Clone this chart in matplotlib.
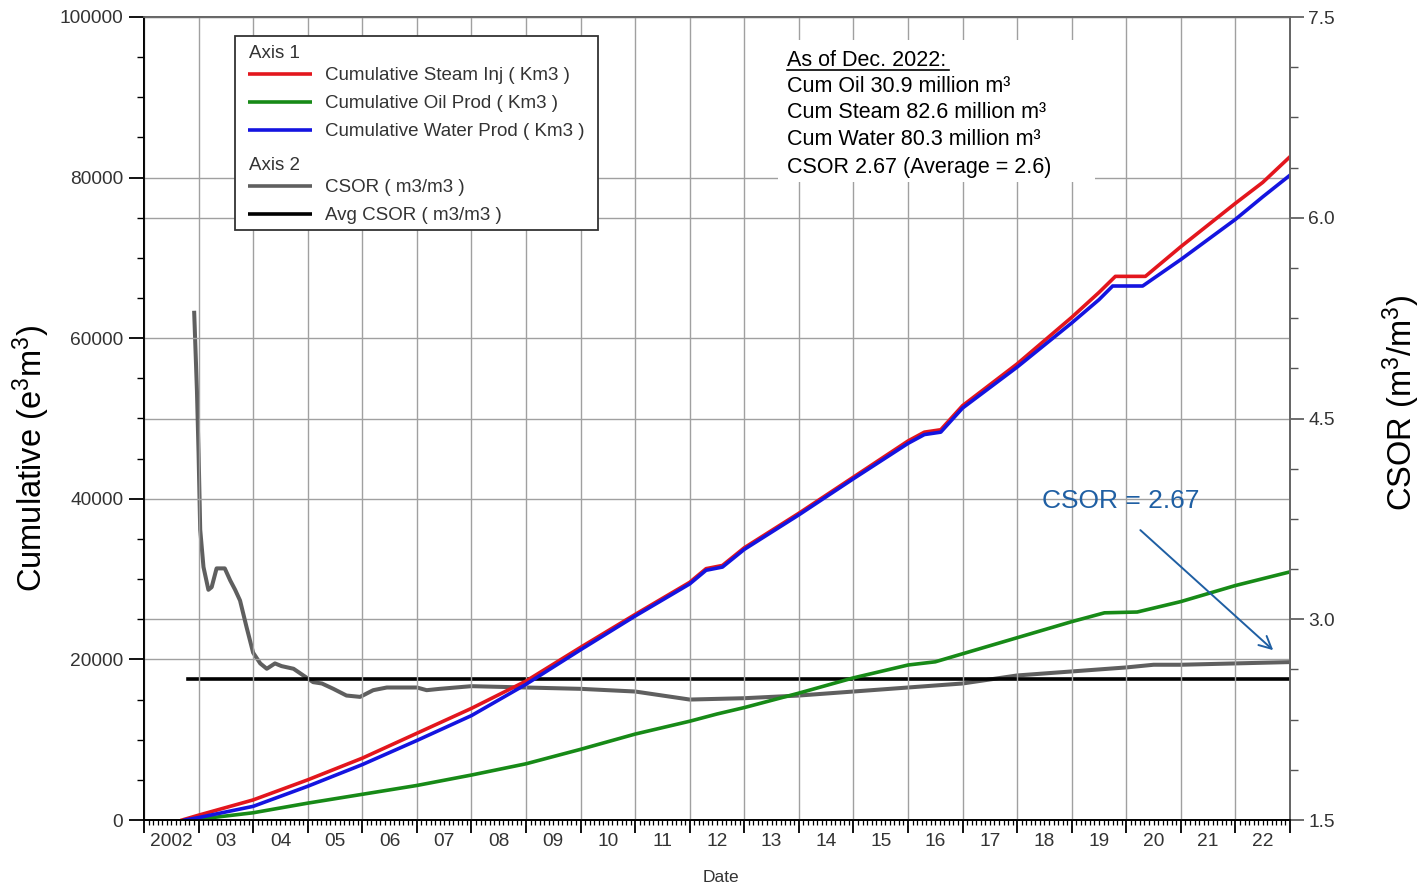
import matplotlib.pyplot as plt
from matplotlib.ticker import MultipleLocator, NullFormatter, FormatStrFormatter
from matplotlib.patches import Rectangle

plt.rcParams['font.family'] = ['Liberation Sans', 'DejaVu Sans']
plt.rcParams['mathtext.fontset'] = 'custom'
plt.rcParams['mathtext.rm'] = 'Liberation Sans'
plt.rcParams['mathtext.it'] = 'Liberation Sans:italic'
plt.rcParams['mathtext.bf'] = 'Liberation Sans:bold'

# ---- data (decimal years) ----
steam_t = [2002.70, 2003.0, 2004.0, 2005.0, 2006.0, 2007.0, 2008.0, 2009.0, 2010.0, 2011.0,
           2012.0, 2012.3, 2012.6, 2013.0, 2014.0, 2015.0, 2016.0, 2016.3, 2016.6, 2017.0,
           2018.0, 2019.0, 2019.5, 2019.8, 2020.35, 2021.0, 2022.0, 2022.5, 2023.0]
steam = [0, 600, 2500, 5000, 7700, 10800, 13900, 17300, 21500, 25600,
         29600, 31300, 31700, 33900, 38200, 42700, 47200, 48300, 48600, 51600,
         56800, 62600, 65700, 67700, 67700, 71400, 76800, 79400, 82600]

water_t = [2002.75, 2003.0, 2004.0, 2005.0, 2006.0, 2007.0, 2008.0, 2009.0, 2010.0, 2011.0,
           2012.0, 2012.3, 2012.6, 2013.0, 2014.0, 2015.0, 2016.0, 2016.3, 2016.6, 2017.0,
           2018.0, 2019.0, 2019.5, 2019.75, 2020.3, 2021.0, 2022.0, 2022.5, 2023.0]
water = [0, 300, 1700, 4200, 6900, 9900, 13000, 16900, 21200, 25400,
         29400, 31100, 31500, 33700, 38000, 42500, 46900, 48000, 48300, 51300,
         56400, 61900, 64800, 66500, 66500, 69800, 74800, 77600, 80300]

oil_t = [2002.8, 2003.0, 2004.0, 2005.0, 2006.0, 2007.0, 2008.0, 2009.0, 2010.0, 2011.0,
         2012.0, 2012.5, 2013.0, 2014.0, 2015.0, 2016.0, 2016.5, 2017.0, 2018.0, 2019.0,
         2019.6, 2020.2, 2021.0, 2022.0, 2023.0]
oil = [0, 100, 900, 2100, 3200, 4300, 5600, 7000, 8800, 10700,
       12300, 13200, 14000, 15800, 17700, 19300, 19700, 20700, 22700, 24700,
       25800, 25900, 27200, 29200, 30900]

csor_t = [2002.92, 2002.97, 2003.00, 2003.03, 2003.09, 2003.18, 2003.24, 2003.33, 2003.48,
          2003.58, 2003.67, 2003.76, 2003.88, 2004.00, 2004.13, 2004.25, 2004.40, 2004.52,
          2004.74, 2004.92, 2005.10, 2005.26, 2005.47, 2005.71, 2005.96, 2006.20, 2006.45,
          2007.00, 2007.18, 2007.42, 2008.0, 2009.0, 2010.0, 2011.0, 2012.0, 2013.0, 2014.0,
          2015.0, 2016.0, 2017.0, 2018.0, 2019.0, 2020.0, 2020.5, 2021.0, 2022.0, 2023.0]
csor = [5.29, 4.71, 4.24, 3.67, 3.39, 3.22, 3.24, 3.38, 3.38,
        3.29, 3.22, 3.14, 2.94, 2.75, 2.67, 2.63, 2.67, 2.65,
        2.63, 2.58, 2.53, 2.52, 2.48, 2.43, 2.42, 2.47, 2.49,
        2.49, 2.47, 2.48, 2.50, 2.49, 2.48, 2.46, 2.40, 2.41, 2.43,
        2.46, 2.49, 2.52, 2.58, 2.61, 2.64, 2.66, 2.66, 2.67, 2.68]

avg_t = [2002.8, 2023.0]
avg_csor = [2.55, 2.55]

year_labels = ['2002'] + ['%02d' % (y % 100) for y in range(2003, 2023)]

# ---- figure ----
fig = plt.figure(figsize=(14.22, 8.88), dpi=100)
ax = fig.add_axes([144 / 1422, 68 / 888, 1146 / 1422, 803 / 888])
ax2 = ax.twinx()
ax.set_zorder(ax2.get_zorder() + 1)
ax.patch.set_visible(False)

grid_kw = dict(color='#a0a0a0', linewidth=1.0)
tick_col = '#333333'

# left axis lines
ax.plot(oil_t, oil, color='#178a17', lw=2.6, label='Cumulative Oil Prod ( Km3 )')
ax.plot(steam_t, steam, color='#e3161d', lw=2.6, label='Cumulative Steam Inj ( Km3 )')
ax.plot(water_t, water, color='#1414e0', lw=2.6, label='Cumulative Water Prod ( Km3 )')

# right axis lines
ax2.plot(csor_t, csor, color='#5f5f5f', lw=2.9)
ax2.plot(avg_t, avg_csor, color='black', lw=2.6)

ax.set_xlim(2002, 2023)
ax.set_ylim(0, 100000)
ax2.set_ylim(1.5, 7.5)

# x ticks: years major, months minor
ax.xaxis.set_major_locator(MultipleLocator(1))
ax.xaxis.set_minor_locator(MultipleLocator(1 / 12))
ax.xaxis.set_major_formatter(NullFormatter())
ax.tick_params(axis='x', which='major', direction='out', length=9, width=1.3, color='black')
ax.tick_params(axis='x', which='minor', direction='out', length=3.5, width=0.9, color='black')
sec = ax.secondary_xaxis('bottom')
sec.set_xticks([y + 0.5 for y in range(2002, 2023)], year_labels)
sec.tick_params(length=0, pad=9, labelsize=13.8, labelcolor=tick_col)
sec.spines['bottom'].set_visible(False)

# left y
ax.yaxis.set_major_locator(MultipleLocator(20000))
ax.yaxis.set_minor_locator(MultipleLocator(5000))
ax.tick_params(axis='y', which='major', direction='out', length=11, width=1.3,
               labelsize=13.8, labelcolor=tick_col, pad=4)
ax.tick_params(axis='y', which='minor', direction='out', length=5, width=1.0)

# right y
ax2.yaxis.set_major_locator(MultipleLocator(1.5))
ax2.yaxis.set_minor_locator(MultipleLocator(0.375))
ax2.yaxis.set_major_formatter(FormatStrFormatter('%.1f'))
ax2.tick_params(axis='y', which='major', direction='out', length=10, width=1.2,
                color='#555555', labelsize=13.8, labelcolor=tick_col, pad=3)
ax2.tick_params(axis='y', which='minor', direction='out', length=6, width=1.0, color='#555555')

ax.grid(True, which='major', **grid_kw)
ax2.grid(True, axis='y', which='major', **grid_kw)
ax.set_axisbelow(True)

for a in (ax, ax2):
    a.spines['left'].set_color('black')
    a.spines['bottom'].set_color('black')
    a.spines['top'].set_color('#666666')
    a.spines['right'].set_color('#666666')
    for s in a.spines.values():
        s.set_linewidth(1.3)

ax.set_ylabel('Cumulative (e$^3$m$^3$)', fontsize=23.5)
ax.yaxis.set_label_coords(-0.080, 0.45)
ax2.set_ylabel('CSOR (m$^3$/m$^3$)', fontsize=23.5)
ax2.yaxis.set_label_coords(1.079, 0.52)
fig.text(721 / 1422, 1 - 877 / 888, 'Date', ha='center', va='center', fontsize=12.5, color=tick_col)


# helpers in axes-fraction from reference pixel positions
def px(x):
    return (x - 144) / 1146


def py(y):
    return (820 - y) / 803


# legend box
ax.add_patch(Rectangle((px(235), py(230)), px(598) - px(235), py(36) - py(230),
                       transform=ax.transAxes, facecolor='white', edgecolor='#333333',
                       lw=1.3, zorder=5))
legend_rows = [
    ('Axis 1', None, 53),
    ('Cumulative Steam Inj ( Km3 )', '#e3161d', 76),
    ('Cumulative Oil Prod ( Km3 )', '#178a17', 104),
    ('Cumulative Water Prod ( Km3 )', '#1414e0', 132),
    ('Axis 2', None, 165),
    ('CSOR ( m3/m3 )', '#5f5f5f', 188),
    ('Avg CSOR ( m3/m3 )', 'black', 216),
]
for text, col, yy in legend_rows:
    if col is None:
        ax.text(px(249), py(yy), text, transform=ax.transAxes, fontsize=13.5,
                color=tick_col, va='center', ha='left', zorder=6)
    else:
        ax.plot([px(248), px(312)], [py(yy - 1.5), py(yy - 1.5)], transform=ax.transAxes,
                color=col, lw=2.6, zorder=6, solid_capstyle='butt')
        ax.text(px(325), py(yy), text, transform=ax.transAxes, fontsize=13.5,
                color=tick_col, va='center', ha='left', zorder=6)

# summary box
ax.add_patch(Rectangle((px(778), py(182)), px(1095) - px(778), py(40) - py(182),
                       transform=ax.transAxes, facecolor='white', edgecolor='none', zorder=5))
summary = ['As of Dec. 2022:',
           'Cum Oil 30.9 million m³',
           'Cum Steam 82.6 million m³',
           'Cum Water 80.3 million m³',
           'CSOR 2.67 (Average = 2.6)']
for line, yy in zip(summary, [61, 87, 113, 139, 167]):
    ax.text(px(787), py(yy), line, transform=ax.transAxes, fontsize=15.5,
            color='black', va='center', ha='left', zorder=6)
ax.plot([px(787), px(949)], [py(70.5), py(70.5)], transform=ax.transAxes,
        color='black', lw=1.2, zorder=6)

# CSOR callout
blue_txt = '#1f5fa3'
ax.text(px(1121), py(501), 'CSOR = 2.67', transform=ax.transAxes, fontsize=19,
        color=blue_txt, ha='center', va='center', zorder=6)
ax.annotate('', xy=(2022.73, 2.755), xycoords=ax2.transData,
            xytext=(2020.22, 3.68), textcoords=ax2.transData,
            arrowprops=dict(arrowstyle='->', color=blue_txt, lw=1.4, mutation_scale=22),
            zorder=6)

fig.savefig('out.png', dpi=100, facecolor='white')
